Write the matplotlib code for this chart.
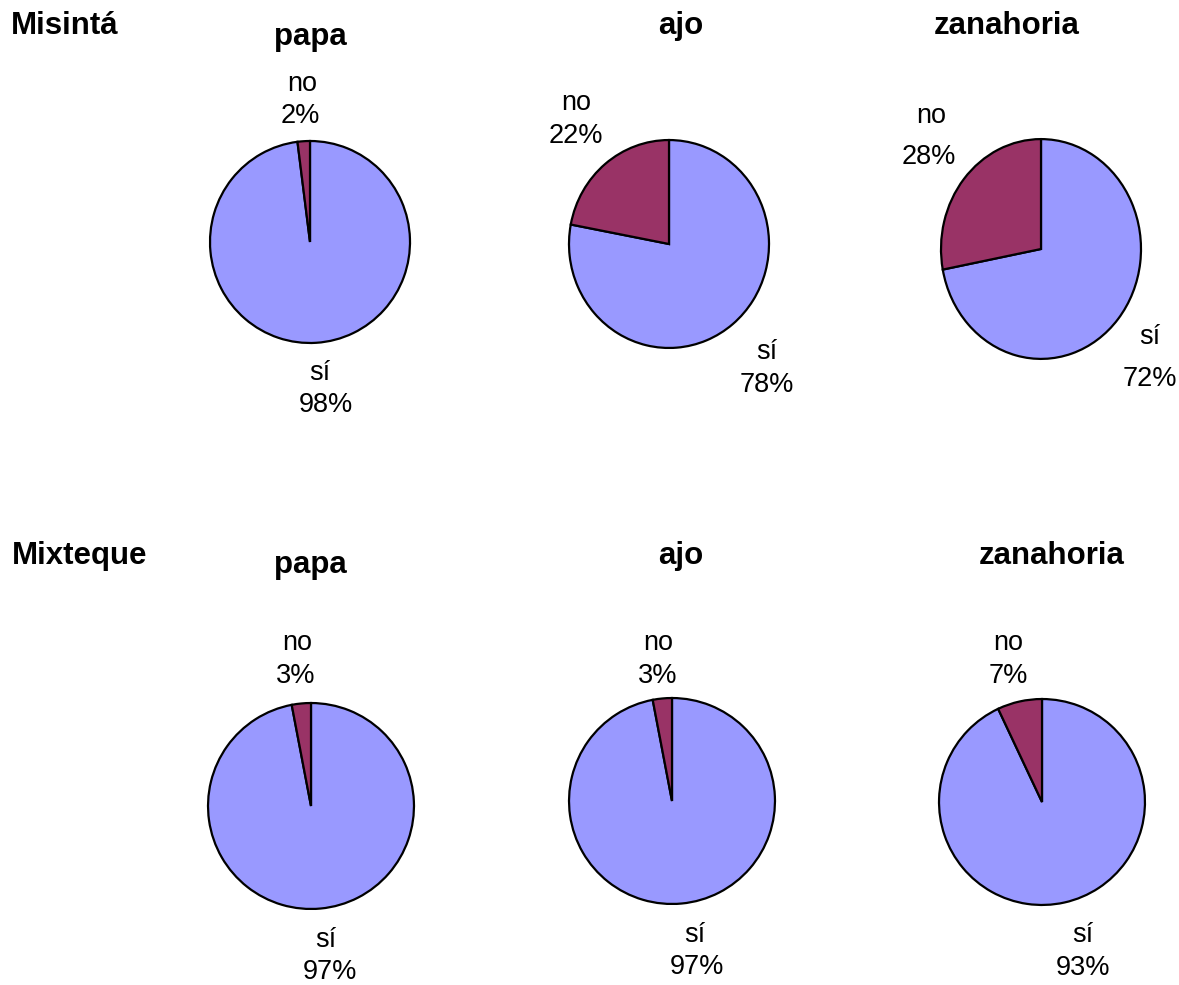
import matplotlib
matplotlib.use("Agg")
import matplotlib.pyplot as plt

plt.rcParams['font.family'] = ['Liberation Sans', 'DejaVu Sans']

W, H = 1179, 985

regions = ["Misintá", "Mixteque"]
crops = ["papa", "ajo", "zanahoria"]
answers = ["sí", "no"]
# percentage of "sí" / "no" per region and crop
misinta_si = [98, 78, 72]
misinta_no = [2, 22, 28]
mixteque_si = [97, 97, 93]
mixteque_no = [3, 3, 7]

colors = ["#9999FF", "#993366"]

# layout in pixels: pie centre and radii
pie_boxes = [
    [(310, 242, 101, 102), (669, 244, 101, 105), (1041, 249, 101, 111)],
    [(311, 806, 104, 104), (672, 801, 104, 104), (1042, 802, 104, 104)],
]
title_pos = [
    [(310, 37), (681, 26), (1007, 26)],
    [(310, 565), (681, 556), (1052, 556)],
]
region_pos = [(65, 26), (80, 556)]
# (name xy, pct xy) for "sí" then "no"
label_pos = [
    [
        [((320, 373), (326, 405)), ((302, 84), (300, 116))],
        [((767, 352), (767, 385)), ((576, 103), (576, 136))],
        [((1150, 337), (1150, 379)), ((931, 116), (929, 157))],
    ],
    [
        [((326, 940), (330, 972)), ((297, 643), (296, 676))],
        [((695, 935), (697, 967)), ((658, 643), (658, 676))],
        [((1083, 935), (1083, 968)), ((1008, 643), (1008, 676))],
    ],
]

data = [list(zip(misinta_si, misinta_no)), list(zip(mixteque_si, mixteque_no))]

fig = plt.figure(figsize=(W / 100, H / 100), dpi=100)


def fx(x):
    return x / W


def fy(y):
    return 1 - y / H


for r, region in enumerate(regions):
    fig.text(fx(region_pos[r][0]), fy(region_pos[r][1]), region,
             fontsize=22.5, fontweight='bold', ha='center', va='center')
    for c, crop in enumerate(crops):
        cx, cy, rx, ry = pie_boxes[r][c]
        ax = fig.add_axes([fx(cx - rx), fy(cy + ry), 2 * rx / W, 2 * ry / H])
        vals = list(data[r][c])
        ax.pie(vals, colors=colors, startangle=90, counterclock=False,
               wedgeprops=dict(edgecolor='black', linewidth=1.6))
        ax.set_aspect('auto')
        ax.set_xlim(-1.01, 1.01)
        ax.set_ylim(-1.01, 1.01)
        ax.axis('off')
        tx, ty = title_pos[r][c]
        fig.text(fx(tx), fy(ty), crop, fontsize=22.5, fontweight='bold',
                 ha='center', va='center')
        for k, ans in enumerate(answers):
            (nx, ny), (px, py) = label_pos[r][c][k]
            fig.text(fx(nx), fy(ny), ans, fontsize=19.5, ha='center', va='center')
            fig.text(fx(px), fy(py), f"{vals[k]}%", fontsize=19.5,
                     ha='center', va='center')

fig.savefig("out.png", dpi=100, facecolor='white')
